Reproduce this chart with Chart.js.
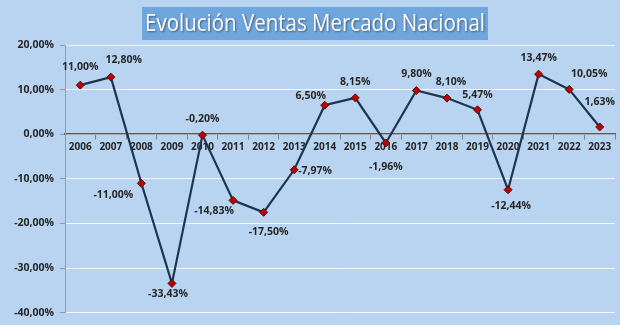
<!DOCTYPE html>
<html>
<head>
<meta charset="utf-8">
<script src="https://cdn.jsdelivr.net/npm/chart.js@4/dist/chart.umd.min.js"></script>
<style>
  html, body { margin: 0; padding: 0; background: #b9d4f0; }
  #wrap { position: relative; width: 620px; height: 325px; }
</style>
</head>
<body>
<div id="wrap"><canvas id="ventasChart" width="620" height="325"></canvas></div>
<script>
const years = ["2006", "2007", "2008", "2009", "2010", "2011", "2012", "2013", "2014",
  "2015", "2016", "2017", "2018", "2019", "2020", "2021", "2022", "2023"];
const ventas = [11.00, 12.80, -11.00, -33.43, -0.20, -14.83, -17.50, -7.97, 6.50,
  8.15, -1.96, 9.80, 8.10, 5.47, -12.44, 13.47, 10.05, 1.63];
const yMin = -40;
const yMax = 20;
const yStep = 10;

// where each value label sits relative to its marker: [dx, dy, align]
const labelPlacement = [
  [0, -18, "center"], [13, -17, "center"], [-28, 12, "center"], [-4, 11, "center"],
  [0, -16, "center"], [-19, 11, "center"], [5, 20, "center"], [4, 1, "left"],
  [-14, -9, "center"], [0, -16, "center"], [0, 24, "center"], [0, -16, "center"],
  [4, -16, "center"], [0, -15, "center"], [3, 16, "center"], [0, -16, "center"],
  [20, -15, "center"], [0, -25, "center"]
];

const TITLE = "Evolución Ventas Mercado Nacional";

const pct = (v) => v.toFixed(2).replace(".", ",") + "%";

const backdrop = {
  id: "backdrop",
  beforeDraw(chart) {
    const { ctx, width, height } = chart;
    ctx.save();
    ctx.fillStyle = "#b9d4f0";
    ctx.fillRect(0, 0, width, height);
    // title banner
    ctx.fillStyle = "#6fa6dd";
    ctx.fillRect(142, 7, 346, 33);
    ctx.font = "23px 'Open Sans', sans-serif";
    ctx.textAlign = "center";
    ctx.textBaseline = "middle";
    ctx.shadowColor = "rgba(0,0,0,0.45)";
    ctx.shadowOffsetX = 1;
    ctx.shadowOffsetY = 1;
    ctx.shadowBlur = 2;
    ctx.fillStyle = "#ffffff";
    ctx.fillText(TITLE, 315, 24, 340);
    ctx.restore();
  }
};

const valueLabels = {
  id: "valueLabels",
  afterDatasetsDraw(chart) {
    const { ctx } = chart;
    const meta = chart.getDatasetMeta(0);
    ctx.save();
    ctx.font = "bold 10.5px 'Open Sans', sans-serif";
    ctx.fillStyle = "#262626";
    ctx.textBaseline = "middle";
    meta.data.forEach((pt, i) => {
      const [dx, dy, align] = labelPlacement[i];
      ctx.textAlign = align;
      ctx.fillText(pct(ventas[i]), pt.x + dx, pt.y + dy);
    });
    ctx.restore();
  }
};

new Chart(document.getElementById("ventasChart"), {
  type: "line",
  data: {
    labels: years,
    datasets: [{
      data: ventas,
      borderColor: "#1c3550",
      borderWidth: 2.2,
      tension: 0,
      pointStyle: "rectRot",
      pointRadius: 4,
      pointBackgroundColor: "#c00000",
      pointBorderColor: "#4a1010",
      pointBorderWidth: 1
    }]
  },
  options: {
    responsive: false,
    animation: false,
    layout: { padding: { top: 45, right: 5, bottom: 10, left: 0 } },
    plugins: { legend: { display: false }, tooltip: { enabled: false } },
    scales: {
      x: {
        position: { y: 0 },
        offset: true,
        grid: { drawOnChartArea: false, drawTicks: true, tickLength: 5, offset: true, color: "#7f7f7f" },
        border: { color: "#5a5a5a", width: 1.5 },
        ticks: {
          color: "#262626",
          padding: 2,
          maxRotation: 0,
          autoSkip: false,
          font: { family: "'Open Sans', sans-serif", size: 10, weight: "bold" }
        }
      },
      y: {
        min: yMin,
        max: yMax,
        afterFit(scale) { scale.width = 65; },
        grid: { color: "#f4f8fd", lineWidth: 1, tickLength: 5, tickColor: "#8c9bb0" },
        border: { color: "#8c9bb0", width: 1 },
        ticks: {
          stepSize: yStep,
          color: "#262626",
          padding: 6,
          callback: (v) => pct(v),
          font: { family: "'Open Sans', sans-serif", size: 10.5, weight: "bold" }
        }
      }
    }
  },
  plugins: [backdrop, valueLabels]
});
</script>
</body>
</html>
